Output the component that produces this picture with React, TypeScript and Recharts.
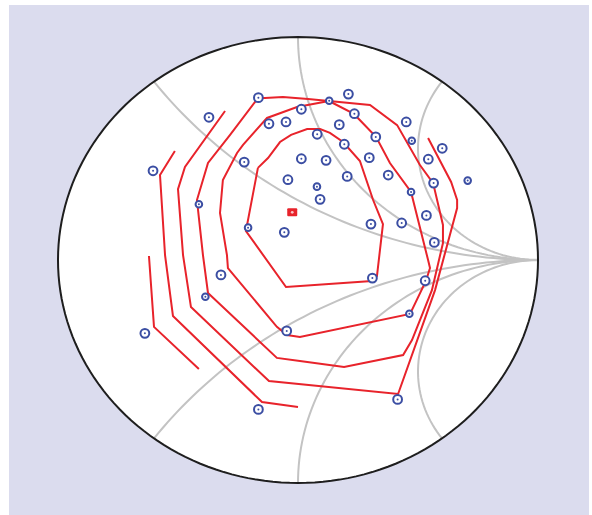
import { ScatterChart, Scatter, XAxis, YAxis } from 'recharts';

const BG = '#dbdcee';
const RED = '#e8232b';
const BLUE = '#3b4ea3';
const GRID = '#c3c3c3';

// reactance circles shown on the Smith chart
const reactances = [0.5, 1, 2, -0.5, -1, -2];

// measured points (Re, Im of reflection coefficient)
const markerPoints: [number, number][] = [
  [-0.165, 0.728], [-0.371, 0.640], [0.210, 0.744], [0.130, 0.714], [0.014, 0.676],
  [0.235, 0.656], [-0.121, 0.611], [-0.050, 0.619], [0.172, 0.607], [0.451, 0.619],
  [0.080, 0.564], [0.324, 0.552], [0.474, 0.535], [0.601, 0.501], [0.193, 0.519],
  [-0.224, 0.439], [0.014, 0.454], [0.117, 0.447], [0.297, 0.459], [0.543, 0.452],
  [-0.604, 0.400], [0.376, 0.381], [0.205, 0.375], [-0.042, 0.360], [0.079, 0.329],
  [0.565, 0.345], [0.707, 0.356], [0.471, 0.305], [0.092, 0.272], [-0.413, 0.250],
  [0.535, 0.200], [0.304, 0.161], [0.432, 0.166], [-0.208, 0.145], [-0.057, 0.124],
  [0.568, 0.079], [-0.321, -0.067], [0.310, -0.081], [0.530, -0.093], [-0.386, -0.165],
  [0.464, -0.241], [-0.047, -0.318], [-0.638, -0.329], [0.415, -0.625], [-0.165, -0.670],
];
// indices of the low-weight points (drawn smaller)
const weakPoints = [3, 12, 24, 26, 27, 29, 33, 39, 40];

const optimum: [number, number] = [-0.024, 0.214];

// contour lines
const contourA: [number, number][] = [
  [-0.167, 0.413], [-0.125, 0.457], [-0.075, 0.529], [-0.029, 0.561], [0.038, 0.587],
  [0.092, 0.587], [0.133, 0.570], [0.188, 0.529], [0.258, 0.444], [0.313, 0.269],
  [0.354, 0.161], [0.329, -0.072], [0.308, -0.094], [-0.050, -0.121], [-0.217, 0.130],
  [-0.167, 0.413],
];
const contourB1: [number, number][] = [
  [0.129, 0.713], [0.233, 0.655], [0.325, 0.552], [0.383, 0.435], [0.471, 0.305],
  [0.542, 0.000], [0.550, -0.036], [0.533, -0.094], [0.467, -0.242], [0.008, -0.345],
  [-0.046, -0.336], [-0.088, -0.300], [-0.292, -0.036], [-0.296, 0.022], [-0.325, 0.211],
  [-0.313, 0.359], [-0.254, 0.480], [-0.229, 0.516], [-0.129, 0.637], [-0.004, 0.686],
  [0.129, 0.713],
];
const contourB2: [number, number][] = [
  [0.129, 0.713], [0.300, 0.695], [0.413, 0.605], [0.508, 0.426], [0.563, 0.345],
  [0.604, 0.157], [0.604, 0.076], [0.558, -0.135], [0.475, -0.359], [0.438, -0.426],
  [0.192, -0.480], [0.008, -0.453], [-0.088, -0.439], [-0.375, -0.148], [-0.396, 0.022],
  [-0.421, 0.269], [-0.375, 0.435], [-0.283, 0.561], [-0.167, 0.726], [-0.138, 0.726],
  [-0.063, 0.731], [0.042, 0.722], [0.129, 0.713],
];
const contourC: [number, number][] = [
  [-0.304, 0.668], [-0.471, 0.417], [-0.500, 0.318], [-0.479, 0.022], [-0.446, -0.211],
  [-0.121, -0.543], [0.417, -0.601], [0.571, -0.135], [0.625, 0.081], [0.663, 0.233],
  [0.663, 0.269], [0.638, 0.350], [0.542, 0.547],
];
const contourD: [number, number][] = [
  [-0.513, 0.489], [-0.575, 0.381], [-0.554, 0.022], [-0.521, -0.251], [-0.150, -0.637],
  [0.000, -0.659],
];
const contourE: [number, number][] = [
  [-0.621, 0.018], [-0.600, -0.300], [-0.413, -0.489],
];
const contours = [contourA, contourB1, contourB2, contourC, contourD, contourE];

const toPts = (list: [number, number][]) => list.map(([u, v]) => ({ u, v }));

// Smith chart frame: unit circle
const unitCircle = Array.from({ length: 181 }, (_, i) => {
  const a = (i / 180) * Math.PI * 2;
  return { u: Math.cos(a), v: Math.sin(a) };
});

// constant reactance arc inside the unit circle
function reactanceArc(x: number) {
  const ax = Math.abs(x);
  const c = 1 / ax;
  const px = (ax * ax - 1) / (ax * ax + 1);
  const py = (2 * ax) / (ax * ax + 1);
  let a0 = Math.atan2(py - c, px - 1);
  if (a0 < 0) a0 += Math.PI * 2;
  const a1 = Math.PI * 1.5;
  return Array.from({ length: 61 }, (_, i) => {
    const a = a0 + ((a1 - a0) * i) / 60;
    const v = c + c * Math.sin(a);
    return { u: 1 + c * Math.cos(a), v: x > 0 ? v : -v };
  });
}

const noDot = () => <g />;

const Marker = (props: any) => {
  const { cx, cy, index } = props;
  const small = weakPoints.includes(index);
  return (
    <g>
      <circle cx={cx} cy={cy} r={small ? 3.3 : 4.4} fill="#fff" stroke={BLUE} strokeWidth={2} />
      <circle cx={cx} cy={cy} r={1} fill={BLUE} />
    </g>
  );
};

const OptimumMark = (props: any) => {
  const { cx, cy } = props;
  return (
    <g>
      <rect x={cx - 5} y={cy - 4} width={10} height={8} rx={1} fill={RED} />
      <circle cx={cx} cy={cy} r={1.4} fill="#f7c3c5" />
    </g>
  );
};

export default function App() {
  return (
    <div style={{ position: 'absolute', left: 9, top: 5, width: 580, height: 510, background: BG }}>
      <ScatterChart width={580} height={510} margin={{ top: 32, right: 51, bottom: 32, left: 49 }}>
        <XAxis type="number" dataKey="u" domain={[-1, 1]} hide />
        <YAxis type="number" dataKey="v" domain={[-1, 1]} hide />

        {/* white chart face */}
        <Scatter
          data={unitCircle}
          shape={noDot}
          line={{ stroke: 'none', fill: '#fff' }}
          isAnimationActive={false}
        />

        {reactances.map((x) => (
          <Scatter
            key={'x' + x}
            data={reactanceArc(x)}
            shape={noDot}
            line={{ stroke: GRID, strokeWidth: 2, fill: 'none' }}
            isAnimationActive={false}
          />
        ))}
        <Scatter
          data={toPts([[0.86, 0], [1, 0]])}
          shape={noDot}
          line={{ stroke: GRID, strokeWidth: 2.5, fill: 'none' }}
          isAnimationActive={false}
        />

        {/* outer rim */}
        <Scatter
          data={unitCircle}
          shape={noDot}
          line={{ stroke: '#1e1e1e', strokeWidth: 2, fill: 'none' }}
          isAnimationActive={false}
        />

        {contours.map((c, i) => (
          <Scatter
            key={'c' + i}
            data={toPts(c)}
            shape={noDot}
            line={{ stroke: RED, strokeWidth: 2, fill: 'none' }}
            isAnimationActive={false}
          />
        ))}

        <Scatter data={toPts(markerPoints)} shape={<Marker />} isAnimationActive={false} />
        <Scatter data={toPts([optimum])} shape={<OptimumMark />} isAnimationActive={false} />
      </ScatterChart>
    </div>
  );
}
